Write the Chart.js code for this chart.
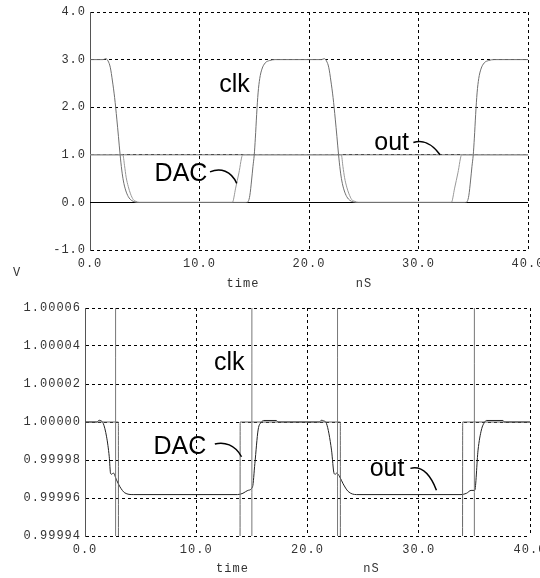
<!DOCTYPE html>
<html lang="en">
  <head>
    <meta charset="UTF-8" />
    <title>clk / DAC / out</title>
    <script src="https://cdn.jsdelivr.net/npm/chart.js"></script>
    <style>
      body { margin: 0; background: #fff; }
      canvas { display: block; }
    </style>
  </head>
  <body>
    <canvas id="topChart" width="540" height="290"></canvas>
    <canvas id="bottomChart" width="540" height="288"></canvas>

    <script>
      // time axis (nS)
      const timeTicks = [0, 10, 20, 30, 40];
      const topYTicks = [-1, 0, 1, 2, 3, 4];
      const bottomYTicks = [0.99994, 0.99996, 0.99998, 1.0, 1.00002, 1.00004, 1.00006];

      // clk (V)
      const clkT = [0, 1.2, 1.45, 1.65, 1.85, 2.05, 2.25, 2.45, 2.6, 2.75, 2.9, 3.05, 3.25, 3.5, 3.8, 4.1, 4.3,
        14.3, 14.45, 14.6, 14.75, 14.88, 15.0, 15.1, 15.22, 15.35, 15.5, 15.7, 16.0, 16.4, 16.9,
        21.15, 21.4, 21.6, 21.8, 22.0, 22.2, 22.4, 22.55, 22.7, 22.85, 23.0, 23.2, 23.45, 23.75, 24.05, 24.3,
        34.3, 34.45, 34.6, 34.75, 34.88, 35.0, 35.1, 35.22, 35.35, 35.5, 35.7, 36.0, 36.4, 36.9, 40];
      const clkV = [3.0, 3.0, 3.02, 2.97, 2.84, 2.55, 2.2, 1.75, 1.38, 1.0, 0.68, 0.45, 0.26, 0.12, 0.04, 0.01, 0.0,
        0.0, 0.02, 0.15, 0.45, 0.75, 1.0, 1.35, 1.85, 2.3, 2.6, 2.8, 2.93, 2.98, 3.0,
        3.0, 3.02, 2.97, 2.84, 2.55, 2.2, 1.75, 1.38, 1.0, 0.68, 0.45, 0.26, 0.12, 0.04, 0.01, 0.0,
        0.0, 0.02, 0.15, 0.45, 0.75, 1.0, 1.35, 1.85, 2.3, 2.6, 2.8, 2.93, 2.98, 3.0, 3.0];

      // DAC (V)
      const dacT = [0, 3.0, 3.15, 3.3, 3.5, 3.7, 3.95, 4.2, 4.5, 13.0, 13.3, 13.6, 13.95,
        22.95, 23.1, 23.25, 23.45, 23.65, 23.9, 24.2, 24.5, 33.0, 33.3, 33.6, 33.95, 40];
      const dacV = [1.0, 1.0, 0.78, 0.53, 0.33, 0.18, 0.06, 0.02, 0.0, 0.0, 0.3, 0.62, 1.0,
        1.0, 0.75, 0.52, 0.32, 0.18, 0.06, 0.02, 0.0, 0.0, 0.3, 0.62, 1.0, 1.0];

      // out (V)
      const outT = [0, 1.05, 1.28, 1.45, 1.64, 1.94, 2.18, 2.3, 2.42, 2.54, 2.84, 3.14, 3.58, 4.33,
        13.7, 14.2, 14.64, 15.06, 15.27, 15.56, 15.87, 16.07, 17.2, 17.35,
        21.05, 21.26, 21.45, 21.7, 22.16, 22.39, 22.5, 22.62, 22.9, 23.2, 23.65, 24.4,
        33.8, 34.3, 34.7, 35.03, 35.33, 35.63, 35.93, 36.08, 37.57, 37.7, 40];
      const outV = [1.0, 1.0, 1.0000009, 1.0000006, 0.9999993, 0.9999922, 0.9999817, 0.9999729, 0.9999725, 0.9999732, 0.9999694, 0.9999659, 0.9999627, 0.9999618,
        0.9999618, 0.9999625, 0.999964, 0.9999659, 0.9999782, 0.9999958, 1.0, 1.0000008, 1.0000008, 1.0,
        1.0, 1.0000009, 1.0000006, 0.9999993, 0.9999852, 0.9999729, 0.9999725, 0.9999731, 0.9999711, 0.9999675, 0.9999635, 0.9999618,
        0.9999618, 0.9999625, 0.999964, 0.999964, 0.9999852, 0.9999958, 1.0, 1.0000008, 1.0000008, 1.0, 1.0];

      const monoFont = { family: "'Liberation Mono', monospace", size: 12 };

      function points(ts, vs) {
        return ts.map((t, i) => ({ x: t, y: vs[i] }));
      }

      // text labels with leader curves, placed in data coordinates
      const topNotes = [
        { text: "clk", t: 11.8, v: 2.47 },
        { text: "DAC", t: 5.9, v: 0.6 },
        { text: "out", t: 25.96, v: 1.25 },
      ];
      const topLeaders = [
        [[10.96, 0.64], [11.9, 0.74], [12.9, 0.66], [13.4, 0.4]],
        [[29.53, 1.257], [30.3, 1.32], [31.2, 1.25], [31.97, 1.0]],
      ];
      const bottomNotes = [
        { text: "clk", t: 11.6, v: 1.000031 },
        { text: "DAC", t: 6.15, v: 0.9999868 },
        { text: "out", t: 25.59, v: 0.999975 },
      ];
      const bottomLeaders = [
        [[11.67, 0.9999884], [12.5, 0.9999898], [13.5, 0.999988], [14.07, 0.9999817]],
        [[29.25, 0.9999756], [30.1, 0.9999768], [30.9, 0.9999745], [31.59, 0.9999641]],
      ];

      function notesPlugin(notes, leaders, extra) {
        return {
          id: "notes",
          beforeDraw(chart) {
            chart.ctx.letterSpacing = "1px";
          },
          beforeDatasetsDraw(chart) {
            if (!extra.zeroLine) return;
            const { ctx, chartArea, scales } = chart;
            const y = Math.round(scales.y.getPixelForValue(0)) + 0.5;
            ctx.save();
            ctx.strokeStyle = "#000";
            ctx.lineWidth = 1;
            ctx.beginPath();
            ctx.moveTo(chartArea.left, y);
            ctx.lineTo(chartArea.right, y);
            ctx.stroke();
            ctx.restore();
          },
          afterDraw(chart) {
            const { ctx, chartArea, scales } = chart;
            const px = (p) => [scales.x.getPixelForValue(p[0]), scales.y.getPixelForValue(p[1])];
            ctx.save();
            ctx.letterSpacing = "0px";
            ctx.fillStyle = "#000";
            ctx.font = "25px 'Liberation Sans', Arial, sans-serif";
            ctx.textAlign = "left";
            ctx.textBaseline = "middle";
            notes.forEach((n) => {
              ctx.fillText(n.text, scales.x.getPixelForValue(n.t), scales.y.getPixelForValue(n.v));
            });
            ctx.strokeStyle = "#000";
            ctx.lineWidth = 1.5;
            leaders.forEach((l) => {
              const [a, b, c, d] = l.map(px);
              ctx.beginPath();
              ctx.moveTo(a[0], a[1]);
              ctx.bezierCurveTo(b[0], b[1], c[0], c[1], d[0], d[1]);
              ctx.stroke();
            });

            // axis captions
            ctx.letterSpacing = "1px";
            ctx.font = "12px 'Liberation Mono', monospace";
            ctx.fillStyle = "#333";
            ctx.textAlign = "center";
            const mid = (chartArea.left + chartArea.right) / 2;
            ctx.fillText("time", mid + extra.timeDx, extra.captionY);
            ctx.fillText("nS", mid + extra.nsDx, extra.captionY);
            if (extra.showV) ctx.fillText("V", 17, 273);
            ctx.restore();
          },
        };
      }

      function makeChart(id, cfg) {
        const ctx = document.getElementById(id).getContext("2d");
        return new Chart(ctx, {
          type: "line",
          data: {
            datasets: [
              { label: "clk", data: points(clkT, clkV), borderColor: cfg.clkColor },
              { label: "DAC", data: points(dacT, dacV), borderColor: cfg.dacColor },
              { label: "out", data: points(outT, outV), borderColor: cfg.outColor },
            ],
          },
          options: {
            responsive: false,
            animation: false,
            devicePixelRatio: 1,
            layout: { padding: cfg.padding },
            elements: {
              point: { radius: 0 },
              line: { borderWidth: 1, cubicInterpolationMode: "monotone" },
            },
            plugins: { legend: { display: false }, tooltip: { enabled: false } },
            scales: {
              x: {
                type: "linear",
                min: 0,
                max: 40,
                afterBuildTicks: (s) => { s.ticks = timeTicks.map((v) => ({ value: v })); },
                afterFit: (s) => { s.height = cfg.xHeight; s.paddingLeft = 0; s.paddingRight = 0; },
                ticks: {
                  font: monoFont,
                  color: "#333",
                  padding: 7,
                  maxRotation: 0,
                  callback: (v) => Number(v).toFixed(1),
                },
                grid: {
                  drawTicks: false,
                  lineWidth: 1,
                  color: (c) => (c.tick && c.tick.value === 0 ? "rgba(0,0,0,0)" : "#000"),
                },
                border: { display: false, dash: [3, 3] },
              },
              y: {
                type: "linear",
                min: cfg.yTicks[0],
                max: cfg.yTicks[cfg.yTicks.length - 1],
                afterBuildTicks: (s) => { s.ticks = cfg.yTicks.map((v) => ({ value: v })); },
                afterFit: (s) => { s.width = cfg.yWidth; s.paddingTop = 0; s.paddingBottom = 0; },
                ticks: {
                  font: monoFont,
                  color: "#333",
                  padding: 4,
                  callback: (v) => Number(v).toFixed(cfg.digits),
                },
                grid: { drawTicks: false, lineWidth: 1, color: "#000" },
                border: { display: true, color: "#555", width: 1, dash: [3, 3] },
              },
            },
          },
          plugins: [notesPlugin(cfg.notes, cfg.leaders, cfg.extra)],
        });
      }

      makeChart("topChart", {
        yTicks: topYTicks,
        digits: 1,
        padding: { top: 12, right: 12, left: 0, bottom: 0 },
        yWidth: 90,
        xHeight: 40,
        clkColor: "#6f6f6f",
        dacColor: "#999",
        outColor: "#6f6f6f",
        notes: topNotes,
        leaders: topLeaders,
        extra: { zeroLine: true, timeDx: -66, nsDx: 55, captionY: 284, showV: true },
      });

      makeChart("bottomChart", {
        yTicks: bottomYTicks,
        digits: 5,
        padding: { top: 18, right: 10, left: 0, bottom: 0 },
        yWidth: 85,
        xHeight: 42,
        clkColor: "#777",
        dacColor: "#666",
        outColor: "#222",
        notes: bottomNotes,
        leaders: bottomLeaders,
        extra: { zeroLine: false, timeDx: -75, nsDx: 64, captionY: 279, showV: false },
      });
    </script>
  </body>
</html>
